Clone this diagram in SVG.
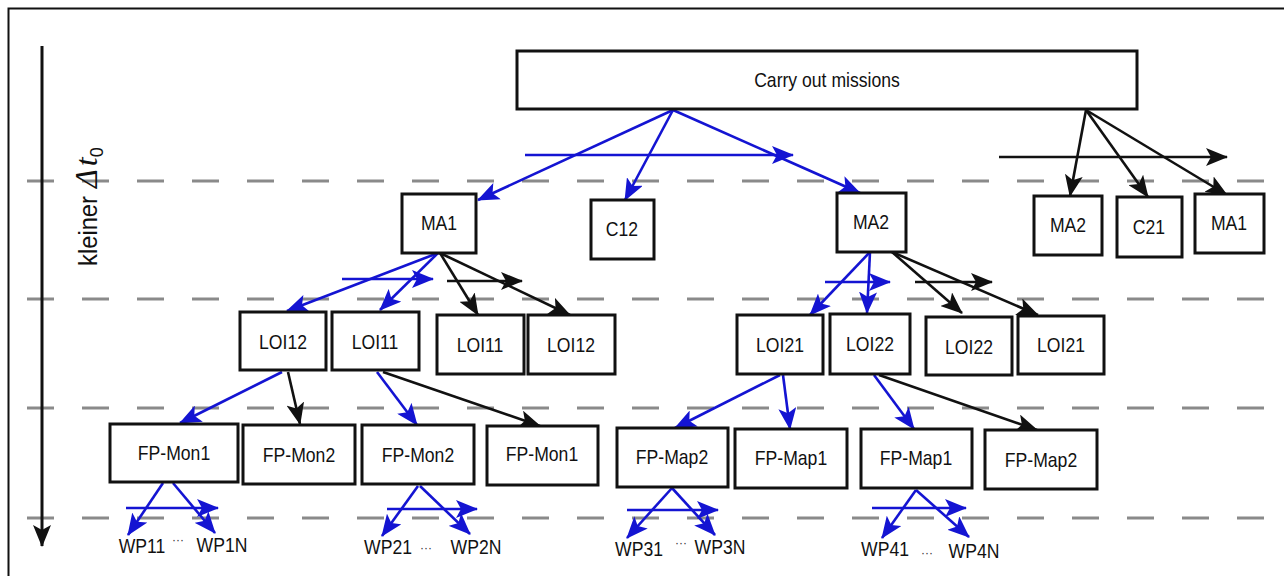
<svg xmlns="http://www.w3.org/2000/svg" width="1284" height="576" viewBox="0 0 1284 576">
<style>
.box{fill:#fff;stroke:#111;stroke-width:3}
.lbl{font-family:"Liberation Sans",Arial,sans-serif;font-size:20px;fill:#111;text-anchor:middle}
.dots{font-family:"Liberation Sans",Arial,sans-serif;font-size:12px;fill:#333;text-anchor:middle}
.dash{stroke:#8a8a8a;stroke-width:3;stroke-dasharray:27 28;fill:none}
.b{stroke:#1414d2;stroke-width:2.6;fill:none;marker-end:url(#ab)}
.k{stroke:#111;stroke-width:2.6;fill:none;marker-end:url(#ak)}
</style>
<defs>
<marker id="ab" viewBox="0 0 22 18" refX="21" refY="9" markerWidth="22" markerHeight="18" markerUnits="userSpaceOnUse" orient="auto"><path d="M0,0 L22,9 L0,18 L5,9 z" fill="#1414d2"/></marker>
<marker id="ak" viewBox="0 0 22 18" refX="21" refY="9" markerWidth="22" markerHeight="18" markerUnits="userSpaceOnUse" orient="auto"><path d="M0,0 L22,9 L0,18 L5,9 z" fill="#111"/></marker>
</defs>
<rect x="0" y="0" width="1284" height="576" fill="#fff"/>
<path d="M8.5,590 V8.5 H1300" fill="none" stroke="#111" stroke-width="2"/>
<g id="grid">
<line class="dash" x1="27" y1="181" x2="1267" y2="181"/>
<line class="dash" x1="27" y1="299" x2="1267" y2="299"/>
<line class="dash" x1="27" y1="408" x2="1267" y2="408"/>
<line class="dash" x1="27" y1="518" x2="1267" y2="518"/>
</g>
<g id="time-axis">
<line x1="42" y1="46" x2="42" y2="546" stroke="#111" stroke-width="3" marker-end="url(#ak)"/>
<text transform="translate(97,266) rotate(-90)" font-family="Liberation Sans,Arial,sans-serif" font-size="26" fill="#111"><tspan textLength="70" lengthAdjust="spacingAndGlyphs">kleiner</tspan><tspan dx="8" font-family="Liberation Serif,serif" font-style="italic" font-size="32">Δ</tspan><tspan dx="3" font-family="Liberation Serif,serif" font-style="italic" font-size="32">t</tspan><tspan font-size="18" dy="6">0</tspan></text>
</g>
<g id="connectors">
<line class="b" x1="673" y1="110" x2="478" y2="200"/>
<line class="b" x1="673" y1="110" x2="625" y2="200"/>
<line class="b" x1="673" y1="110" x2="860" y2="193"/>
<line class="b" x1="525" y1="155" x2="793" y2="155"/>
<line class="k" x1="1086" y1="110" x2="1070" y2="196"/>
<line class="k" x1="1086" y1="110" x2="1148" y2="197"/>
<line class="k" x1="1086" y1="110" x2="1227" y2="195"/>
<line class="k" x1="999" y1="157" x2="1227" y2="157"/>
<line class="b" x1="438" y1="253" x2="287" y2="311"/>
<line class="b" x1="438" y1="253" x2="380" y2="310"/>
<line class="b" x1="342" y1="279" x2="433" y2="279"/>
<line class="k" x1="440" y1="253" x2="478" y2="315"/>
<line class="k" x1="440" y1="253" x2="570" y2="315"/>
<line class="k" x1="447" y1="281" x2="522" y2="281"/>
<line class="b" x1="870" y1="252" x2="810" y2="315"/>
<line class="b" x1="870" y1="252" x2="867" y2="313"/>
<line class="b" x1="825" y1="282" x2="890" y2="282"/>
<line class="k" x1="892" y1="252" x2="962" y2="313"/>
<line class="k" x1="892" y1="252" x2="1038" y2="315"/>
<line class="k" x1="915" y1="282" x2="992" y2="282"/>
<line class="b" x1="282" y1="372" x2="180" y2="423"/>
<line class="k" x1="288" y1="372" x2="300" y2="424"/>
<line class="b" x1="377" y1="372" x2="417" y2="425"/>
<line class="k" x1="383" y1="372" x2="540" y2="426"/>
<line class="b" x1="780" y1="375" x2="675" y2="428"/>
<line class="b" x1="783" y1="375" x2="790" y2="429"/>
<line class="b" x1="874" y1="375" x2="914" y2="429"/>
<line class="k" x1="879" y1="375" x2="1037" y2="430"/>
<line class="b" x1="163" y1="483" x2="128" y2="535"/>
<line class="b" x1="173" y1="483" x2="215" y2="533"/>
<line class="b" x1="126" y1="508" x2="218" y2="508"/>
<line class="b" x1="418" y1="486" x2="382" y2="536"/>
<line class="b" x1="420" y1="486" x2="470" y2="534"/>
<line class="b" x1="387" y1="509" x2="477" y2="509"/>
<line class="b" x1="672" y1="488" x2="627" y2="538"/>
<line class="b" x1="672" y1="488" x2="715" y2="535"/>
<line class="b" x1="627" y1="510" x2="718" y2="510"/>
<line class="b" x1="916" y1="490" x2="882" y2="538"/>
<line class="b" x1="916" y1="490" x2="969" y2="537"/>
<line class="b" x1="872" y1="508" x2="966" y2="508"/>
</g>
<g id="n-top"><rect class="box" x="517" y="51" width="620" height="58"/><text class="lbl" transform="translate(827,87) scale(.88,1)">Carry out missions</text></g>
<g id="n-ma1"><rect class="box" x="402" y="194" width="74" height="59"/><text class="lbl" transform="translate(439,230) scale(.88,1)">MA1</text></g>
<g id="n-c12"><rect class="box" x="591" y="200" width="63" height="59"/><text class="lbl" transform="translate(622,236) scale(.88,1)">C12</text></g>
<g id="n-ma2"><rect class="box" x="837" y="193" width="69" height="59"/><text class="lbl" transform="translate(871,229) scale(.88,1)">MA2</text></g>
<g id="n-ma2r"><rect class="box" x="1034" y="196" width="68" height="59"/><text class="lbl" transform="translate(1068,232) scale(.88,1)">MA2</text></g>
<g id="n-c21"><rect class="box" x="1117" y="197" width="65" height="60"/><text class="lbl" transform="translate(1149,234) scale(.88,1)">C21</text></g>
<g id="n-ma1r"><rect class="box" x="1195" y="194" width="69" height="59"/><text class="lbl" transform="translate(1229,230) scale(.88,1)">MA1</text></g>
<g id="n-loi12"><rect class="box" x="240" y="312" width="86" height="58"/><text class="lbl" transform="translate(283,349) scale(.88,1)">LOI12</text></g>
<g id="n-loi11"><rect class="box" x="332" y="312" width="87" height="58"/><text class="lbl" transform="translate(375,349) scale(.88,1)">LOI11</text></g>
<g id="n-loi11r"><rect class="box" x="437" y="315" width="87" height="59"/><text class="lbl" transform="translate(480,352) scale(.88,1)">LOI11</text></g>
<g id="n-loi12r"><rect class="box" x="528" y="315" width="87" height="59"/><text class="lbl" transform="translate(571,352) scale(.88,1)">LOI12</text></g>
<g id="n-loi21"><rect class="box" x="737" y="315" width="86" height="59"/><text class="lbl" transform="translate(780,352) scale(.88,1)">LOI21</text></g>
<g id="n-loi22"><rect class="box" x="830" y="314" width="80" height="60"/><text class="lbl" transform="translate(870,351) scale(.88,1)">LOI22</text></g>
<g id="n-loi22r"><rect class="box" x="926" y="317" width="86" height="58"/><text class="lbl" transform="translate(969,354) scale(.88,1)">LOI22</text></g>
<g id="n-loi21r"><rect class="box" x="1018" y="316" width="86" height="58"/><text class="lbl" transform="translate(1061,352) scale(.88,1)">LOI21</text></g>
<g id="n-fpmon1"><rect class="box" x="110" y="424" width="128" height="58"/><text class="lbl" transform="translate(174,460) scale(.88,1)">FP-Mon1</text></g>
<g id="n-fpmon2"><rect class="box" x="243" y="425" width="112" height="59"/><text class="lbl" transform="translate(299,462) scale(.88,1)">FP-Mon2</text></g>
<g id="n-fpmon2b"><rect class="box" x="362" y="425" width="112" height="59"/><text class="lbl" transform="translate(418,462) scale(.88,1)">FP-Mon2</text></g>
<g id="n-fpmon1b"><rect class="box" x="487" y="426" width="111" height="59"/><text class="lbl" transform="translate(542,461) scale(.88,1)">FP-Mon1</text></g>
<g id="n-fpmap2"><rect class="box" x="617" y="428" width="111" height="59"/><text class="lbl" transform="translate(672,464) scale(.88,1)">FP-Map2</text></g>
<g id="n-fpmap1"><rect class="box" x="735" y="429" width="112" height="59"/><text class="lbl" transform="translate(791,465) scale(.88,1)">FP-Map1</text></g>
<g id="n-fpmap1b"><rect class="box" x="861" y="429" width="111" height="59"/><text class="lbl" transform="translate(916,465) scale(.88,1)">FP-Map1</text></g>
<g id="n-fpmap2b"><rect class="box" x="985" y="430" width="112" height="59"/><text class="lbl" transform="translate(1041,467) scale(.88,1)">FP-Map2</text></g>
<g id="n-wp1"><text class="lbl" transform="translate(142,553) scale(.88,1)">WP11</text><text class="dots" x="178" y="544">···</text><text class="lbl" transform="translate(222,552) scale(.88,1)">WP1N</text></g>
<g id="n-wp2"><text class="lbl" transform="translate(388,554) scale(.88,1)">WP21</text><text class="dots" x="426" y="552">···</text><text class="lbl" transform="translate(476,554) scale(.88,1)">WP2N</text></g>
<g id="n-wp3"><text class="lbl" transform="translate(639,556) scale(.88,1)">WP31</text><text class="dots" x="681" y="547">···</text><text class="lbl" transform="translate(720,554) scale(.88,1)">WP3N</text></g>
<g id="n-wp4"><text class="lbl" transform="translate(885,556) scale(.88,1)">WP41</text><text class="dots" x="927" y="557">···</text><text class="lbl" transform="translate(974,558) scale(.88,1)">WP4N</text></g>
</svg>
